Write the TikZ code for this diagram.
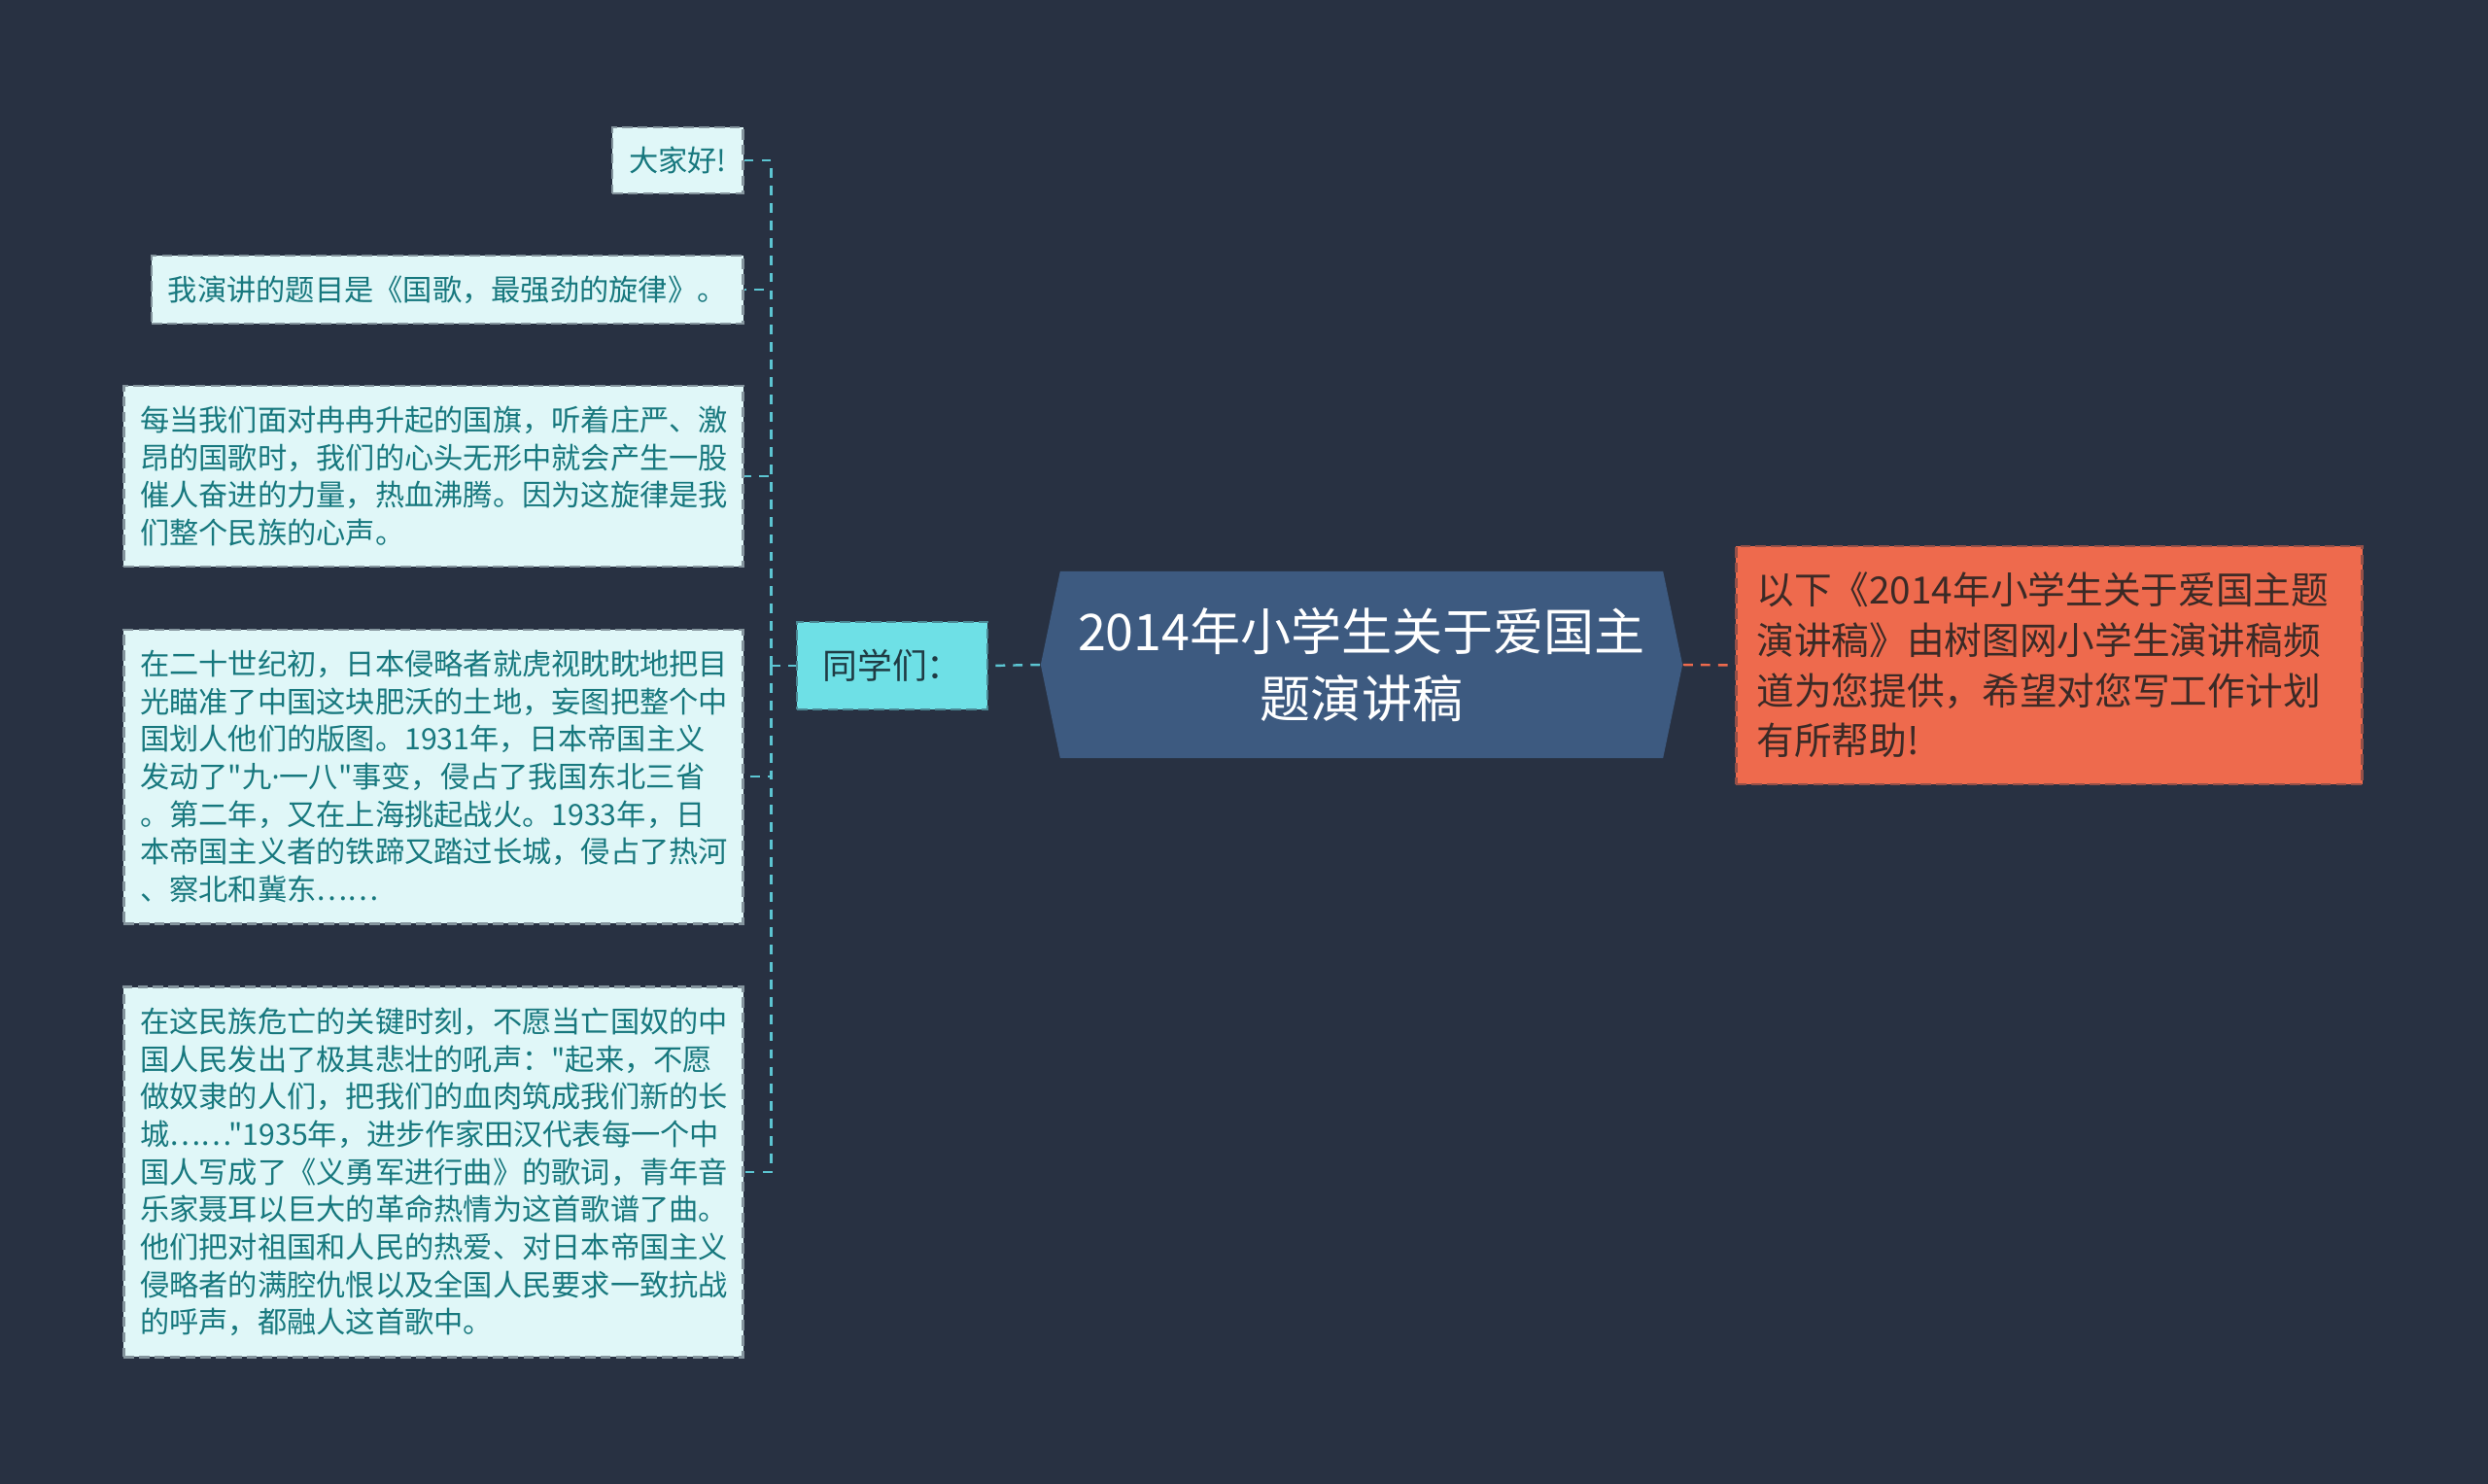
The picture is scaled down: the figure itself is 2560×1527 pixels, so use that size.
\documentclass[tikz,border=0pt]{standalone}
\usepackage{fontspec}
\newfontfamily\cjk{Noto Sans CJK SC}
\newfontfamily\latinsans{Noto Sans}
\usetikzlibrary{positioning}

\definecolor{bgnavy}{HTML}{283142}
\definecolor{kidfill}{HTML}{E0F7F8}
\definecolor{kidtext}{HTML}{17787E}
\definecolor{linkcyan}{HTML}{5CC5D2}
\definecolor{tongfill}{HTML}{6EE0E6}
\definecolor{tongtext}{HTML}{1F3B44}
\definecolor{rootblue}{HTML}{3D5A80}
\definecolor{notefill}{HTML}{EE6A4D}
\definecolor{notetext}{HTML}{3B2A26}

\tikzset{
  kidbox/.style={fill=kidfill, draw=kidfill!50!bgnavy, dash pattern=on 3pt off 1.5pt,
    line width=0.8pt, text=kidtext, font=\cjk\fontsize{8.6pt}{11pt}\selectfont,
    align=left, inner xsep=0.17cm, anchor=east},
  kidlink/.style={draw=linkcyan, line width=0.7pt, dash pattern=on 2.8pt off 2.3pt},
  notelink/.style={draw=notefill, line width=0.7pt, dash pattern=on 2.8pt off 2.3pt},
}

\begin{document}
\begin{tikzpicture}[x=0.01cm, y=-0.01cm]
  % canvas 2560 x 1527 px
  \fill[bgnavy] (0,0) rectangle (2560,1527);
  \useasboundingbox (0,0) rectangle (2560,1527);

  % -- centre topic --
  \node[minimum width=6.6cm, minimum height=1.92cm, inner sep=0pt, align=center,
        text=white, font=\cjk\fontsize{14.8pt}{19.5pt}\selectfont,
        path picture={\fill[rootblue] (path picture bounding box.west)
          -- ([xshift=2mm]path picture bounding box.north west)
          -- ([xshift=-2mm]path picture bounding box.north east)
          -- (path picture bounding box.east)
          -- ([xshift=-2mm]path picture bounding box.south east)
          -- ([xshift=2mm]path picture bounding box.south west) -- cycle;}]
    (root) at (1401,684) {2014年小学生关于爱国主\\题演讲稿};

  % -- right note --
  \node[fill=notefill, draw=notefill!55!bgnavy, dash pattern=on 3pt off 1.5pt,
        line width=0.8pt, text=notetext, anchor=west, align=left,
        minimum height=2.45cm, text width=6.02cm, inner xsep=0.21cm,
        font=\cjk\fontsize{11pt}{14.7pt}\selectfont]
    (note) at (1785,684.5) {以下《2014年小学生关于爱国主题\\演讲稿》由树图网小学生演讲稿频\\道为您提供，希望对您写工作计划\\有所帮助!};

  % -- left branch --
  \node[fill=tongfill, draw=tongfill!50!bgnavy, dash pattern=on 3pt off 1.5pt,
        line width=0.8pt, text=tongtext, minimum width=1.96cm, minimum height=0.9cm,
        font=\cjk\fontsize{10.2pt}{12pt}\selectfont]
    (tx) at (918,685) {同学们：};
  \coordinate (bus) at (793.5,685);

  \node[kidbox, minimum height=0.68cm] (kid1) at (766,165) {大家好!};
  \node[kidbox, minimum height=0.70cm] (kid2) at (766,298) {我演讲的题目是《国歌，最强劲的旋律》。};
  \node[kidbox, text width=6.03cm, minimum height=1.86cm] (kid3) at (766,490)
    {每当我们面对冉冉升起的国旗，听着庄严、激\\昂的国歌时，我们的心头无形中就会产生一股\\催人奋进的力量，热血沸腾。因为这旋律是我\\们整个民族的心声。};
  \node[kidbox, text width=6.03cm, minimum height=3.02cm] (kid4) at (766,799)
    {在二十世纪初，日本侵略者就虎视眈眈地把目\\光瞄准了中国这块肥沃的土地，妄图把整个中\\国划人他们的版图。1931年，日本帝国主义\\发动了"九{\latinsans ·}一八"事变，侵占了我国东北三省\\。第二年，又在上海挑起战火。1933年，日\\本帝国主义者的铁蹄又踏过长城，侵占了热河\\、察北和冀东……};
  \node[kidbox, text width=6.03cm, minimum height=3.80cm] (kid5) at (766,1206)
    {在这民族危亡的关键时刻，不愿当亡国奴的中\\国人民发出了极其悲壮的吼声："起来，不愿\\做奴隶的人们，把我们的血肉筑成我们新的长\\城……"1935年，进步作家田汉代表每一个中\\国人写成了《义勇军进行曲》的歌词，青年音\\乐家聂耳以巨大的革命热情为这首歌谱了曲。\\他们把对祖国和人民的热爱、对日本帝国主义\\侵略者的满腔仇恨以及全国人民要求一致抗战\\的呼声，都融人这首歌中。};

  % -- connectors --
  \draw[kidlink] (root.west) -- (tx.east);
  \draw[kidlink] (bus) -- (tx.west);
  \foreach \k in {kid1,kid2,kid3,kid4,kid5}
    \draw[kidlink] (bus) |- (\k.east);
  \draw[notelink] (root.east) -- (note.west);
\end{tikzpicture}
\end{document}
